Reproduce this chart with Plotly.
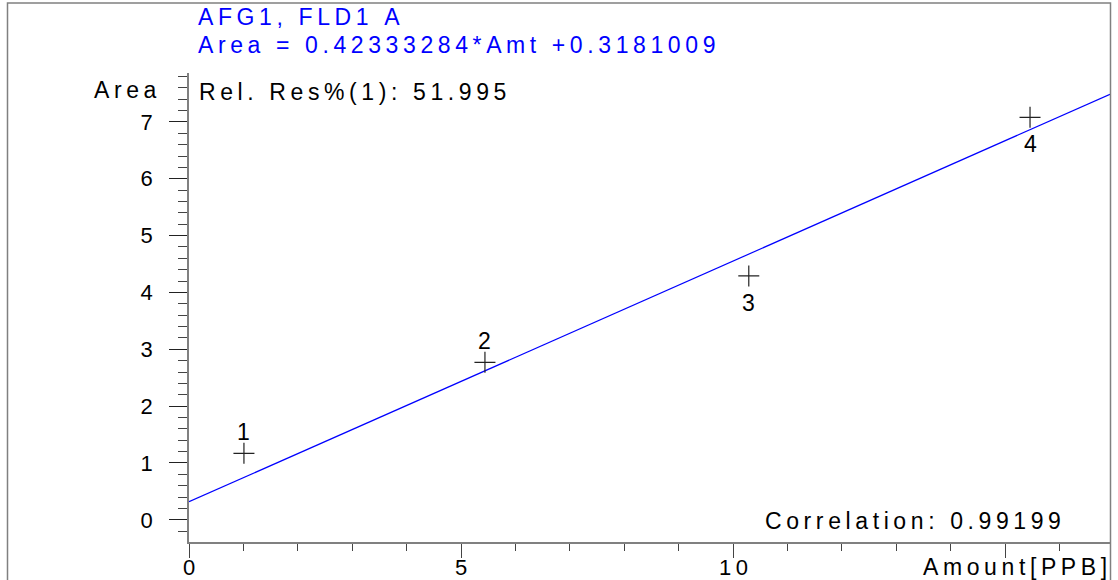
import plotly.graph_objects as go

# ---------------- data ----------------
amount = [1.01, 5.44, 10.29, 15.46]
area = [1.17, 2.77, 4.29, 7.08]
point_labels = ["1", "2", "3", "4"]
slope = 0.42333284
intercept = 0.3181009
x_range = [0, 16.93]
y_range = [-0.39, 7.86]
x_tickvals = [0, 5, 10, 15]
x_ticktext = ["0", "5", "10", ""]
y_tickvals = [0, 1, 2, 3, 4, 5, 6, 7]
y_ticktext = ["0", "1", "2", "3", "4", "5", "6", "7"]
title_line1 = "AFG1, FLD1 A"
title_line2 = "Area = 0.42333284*Amt +0.3181009"
rel_res_text = "Rel. Res%(1): 51.995"
corr_text = "Correlation: 0.99199"
x_title = "Amount[PPB]"
y_title = "Area"

# ---------------- style ----------------
FONT = "Liberation Sans, Arial, sans-serif"
BLUE = "#0000ff"
AXIS = "#808080"
label_side = [1, 1, -1, -1]  # +1 above, -1 below

FIG_W, FIG_H = 1118, 580
L, R, T, B = 189, 1110, 73, 542
W, H = R - L, B - T


def px_x(p):
    return (p - L) / W


def px_y(p):
    return (B - p) / H


def spaced(s):
    return "\u2009".join("\u00a0" if c == " " else c for c in s)


fig = go.Figure()

# calibration line
fig.add_trace(go.Scatter(
    x=x_range,
    y=[slope * v + intercept for v in x_range],
    mode="lines",
    line=dict(color=BLUE, width=1.2),
    hoverinfo="skip",
    showlegend=False,
))

# calibration points
fig.add_trace(go.Scatter(
    x=amount, y=area, mode="markers",
    marker=dict(symbol="cross-thin", size=15, color="#222",
                line=dict(color="#222", width=1.2)),
    showlegend=False,
))

annotations = []
for xv, yv, lab, side in zip(amount, area, point_labels, label_side):
    annotations.append(dict(
        x=xv, y=yv, xref="x", yref="y", text=lab, showarrow=False,
        yshift=21 if side > 0 else -27,
        font=dict(family=FONT, size=23, color="#000"),
    ))

# x tick labels, placed on the x scale (just under the ticks)
for xv, lab in zip(x_tickvals, x_ticktext):
    if lab:
        annotations.append(dict(
            x=xv, y=px_y(567), xref="x", yref="paper", text=spaced(lab),
            showarrow=False, xanchor="center", yanchor="middle",
            font=dict(family=FONT, size=22, color="#000"),
        ))


def ann(text, px, py, anchor="left", color="#000", size=23):
    annotations.append(dict(
        x=px_x(px), y=px_y(py), xref="paper", yref="paper",
        text=spaced(text), showarrow=False, xanchor=anchor, yanchor="middle",
        font=dict(family=FONT, size=size, color=color),
    ))


ann(title_line1, 196, 17, color=BLUE)
ann(title_line2, 196, 45, color=BLUE)
ann(y_title, 92, 90)
ann(rel_res_text, 197, 92)
ann(corr_text, 1063, 521, anchor="right")
ann(x_title, 1109, 567, anchor="right")

fig.update_layout(
    width=FIG_W, height=FIG_H, autosize=False,
    margin=dict(l=L, r=FIG_W - R, t=T, b=FIG_H - B, autoexpand=False),
    paper_bgcolor="white", plot_bgcolor="white",
    font=dict(family=FONT, size=22, color="#000"),
    annotations=annotations,
    shapes=[dict(type="rect", xref="paper", yref="paper",
                 x0=px_x(7.5), x1=px_x(1110.5), y0=px_y(582), y1=px_y(3),
                 line=dict(color=AXIS, width=1.5), layer="above")],
    xaxis=dict(
        range=x_range, showgrid=False, zeroline=False, automargin=False,
        showline=True, linecolor=AXIS, linewidth=1.5,
        tickmode="array", tickvals=x_tickvals, showticklabels=False,
        ticks="outside", ticklen=14, tickcolor="#444", tickwidth=1,
        minor=dict(dtick=1, tick0=0, ticks="outside", ticklen=7,
                   tickcolor="#444", tickwidth=1, showgrid=False),
    ),
    yaxis=dict(
        range=y_range, showgrid=False, zeroline=False, automargin=False,
        showline=True, linecolor=AXIS, linewidth=1.5,
        tickmode="array", tickvals=y_tickvals, ticktext=y_ticktext,
        ticks="outside", ticklen=18, tickcolor="#222", tickwidth=1,
        ticklabelstandoff=12,
        tickfont=dict(family=FONT, size=22, color="#000"),
        minor=dict(dtick=0.2, tick0=0, ticks="outside", ticklen=9,
                   tickcolor="#444", tickwidth=1, showgrid=False),
    ),
)

fig.write_html(
    "out.html",
    config={"displayModeBar": False, "responsive": False},
    post_script="document.body.style.margin='0';",
)
